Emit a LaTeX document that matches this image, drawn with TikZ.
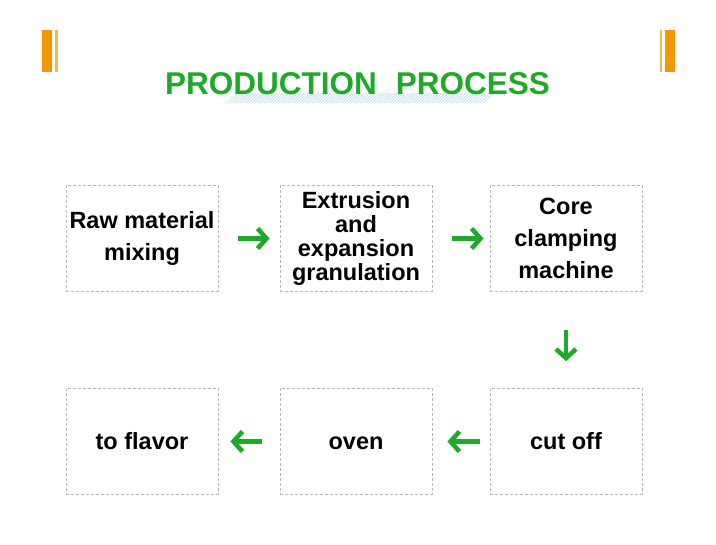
\documentclass[tikz,border=0pt]{standalone}
\usepackage{fontspec}
\setmainfont{Liberation Sans}
\usetikzlibrary{arrows.meta}
\definecolor{procgreen}{RGB}{30,170,40}
\definecolor{barorange}{RGB}{243,152,0}
\definecolor{hatchblue}{RGB}{175,215,240}
\begin{document}
\begin{tikzpicture}[x=1pt,y=-1pt,>={Straight Barb[length=9pt,width=20pt]},font=\bfseries\fontsize{23.5}{24}\selectfont]
                \tikzset{stepbox/.style={draw=gray!55,dash pattern=on 3pt off 2pt,line width=0.8pt,minimum width=152pt,minimum height=106pt,align=center,inner sep=0pt}}
                \tikzset{flow/.style={->,draw=procgreen,line width=4.5pt}}
                \useasboundingbox (0,0) rectangle (716,545);
                % corner bars
                \fill[barorange] (42,30) rectangle (52,72);
                \fill[barorange!70] (55,30) rectangle (57.5,72);
                \fill[barorange!70] (659.5,30) rectangle (662,72);
                \fill[barorange] (665,30) rectangle (675,72);
                % title with hatched stripe
                \foreach \i in {0,3,...,255}
                \draw[hatchblue,line width=0.6pt] (228+\i,103)--(238+\i,93);
                \node[text=procgreen,font=\bfseries\fontsize{31.5}{32}\selectfont] (title) at (357.5,83.5) {PRODUCTION\hspace{0.6em}PROCESS};
                % process boxes
                \node[stepbox] (raw) at (142,238.5) {Raw material\\[8pt]mixing};
                \node[stepbox] (extr) at (356,238.5) {Extrusion\\and\\expansion\\granulation};
                \node[stepbox] (core) at (566,238.5) {Core\\[8pt]clamping\\[8pt]machine};
                \node[stepbox] (cut) at (566,441.5) {cut off};
                \node[stepbox] (oven) at (356,441.5) {\vphantom{f}oven};
                \node[stepbox] (flavor) at (142,441.5) {to flavor};
                % arrows
                \draw[flow,shorten <=20pt,shorten >=10pt] (raw)--(extr);
                \draw[flow,shorten <=20pt,shorten >=6pt] (extr)--(core);
                \draw[flow,shorten <=38pt,shorten >=27pt] (core)--(cut);
                \draw[flow,shorten <=10pt,shorten >=15pt] (cut)--(oven);
                \draw[flow,shorten <=18pt,shorten >=12pt] (oven)--(flavor);
            \end{tikzpicture}
\end{document}
